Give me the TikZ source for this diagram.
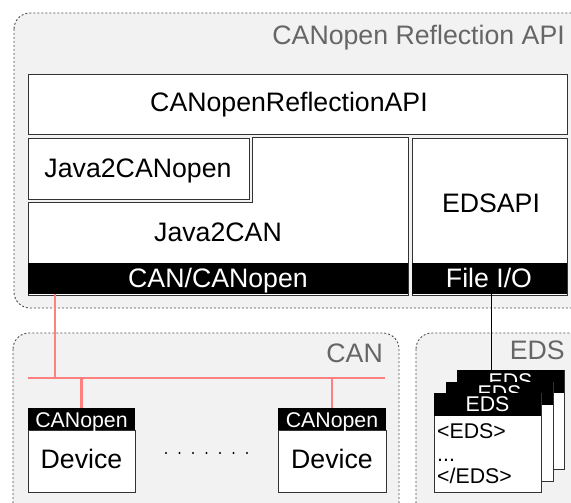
\documentclass[tikz,border=0pt]{standalone}
\usepackage{fontspec}
\setmainfont{Liberation Sans}
\definecolor{bg}{HTML}{F2F2F2}
\definecolor{bord}{HTML}{333333}
\definecolor{titlegray}{HTML}{666666}
\definecolor{busred}{HTML}{FF8080}
\newcommand{\bigfnt}{\fontsize{26.7}{30}\selectfont}
\newcommand{\smlfnt}{\fontsize{21.3}{25}\selectfont}
\begin{document}
\begin{tikzpicture}[x=1pt,y=-1pt,
  group/.style={draw=black!70, dash pattern=on 2pt off 2pt, fill=bg, rounded corners=16pt, line width=0.9pt},
  box/.style={draw=bord, fill=white, line width=1pt, anchor=north west, inner sep=0pt},
  bar/.style={fill=black, anchor=north west, inner sep=0pt},
  bigtxt/.style={font=\bigfnt, anchor=base, inner sep=0pt},
  smltxt/.style={font=\smlfnt, anchor=base, inner sep=0pt},
  grouptitle/.style={font=\bigfnt, text=titlegray, anchor=base east, inner sep=0pt},
  bus/.style={draw=busred, line width=2.5pt},
  link/.style={draw=black, line width=1pt}]
\useasboundingbox (0,0) rectangle (571,503);
\clip (0,0) rectangle (571,503);
% groups
\path[group] (14,13) rectangle (600,308);
\path[group] (13,333) rectangle (399,530);
\path[group] (416,333) rectangle (620,530);
\node[grouptitle] (tapi) at (565,45) {CANopen Reflection API};
\node[grouptitle] (tcan) at (383,362) {CAN};
\node[grouptitle] (teds) at (565,359) {EDS};
% top box
\node[box, minimum width=539pt, minimum height=60pt] (api) at (28,74) {};
\node[bigtxt] at (289,112) {CANopenReflectionAPI};
% Java2CAN L-shape
\draw[draw=bord, fill=white, line width=1pt] (28,202) -- (252,202) -- (252,138) -- (408,138) -- (408,295) -- (28,295) -- cycle;
\node[bigtxt] (j2c) at (218,241) {Java2CAN};
\node[box, minimum width=221pt, minimum height=61pt] (j2co) at (28,138) {};
\node[bigtxt] at (138,177) {Java2CANopen};
\node[bar, minimum width=380pt, minimum height=31pt] (canbar) at (28,263) {};
\node[bigtxt, text=white] at (218,287) {CAN/CANopen};
% EDSAPI
\node[box, minimum width=155pt, minimum height=157pt] (edsapi) at (412,138) {};
\node[bigtxt] at (491,212) {EDSAPI};
\node[bar, minimum width=155pt, minimum height=31pt] (filebar) at (412,263) {};
\node[bigtxt, text=white] at (489,287) {File I/O};
% devices
\node[box, minimum width=107pt, minimum height=62pt] (dev1) at (28,430) {};
\node[bar, minimum width=107pt, minimum height=22pt] (hd1) at (28,408) {};
\node[smltxt, text=white] at (81.5,427) {CANopen};
\node[bigtxt] at (81.5,468) {Device};
\node[box, minimum width=108pt, minimum height=62pt] (dev2) at (278,430) {};
\node[bar, minimum width=108pt, minimum height=22pt] (hd2) at (278,408) {};
\node[smltxt, text=white] at (332,427) {CANopen};
\node[bigtxt] at (332,468) {Device};
\foreach \k in {0,...,6} \fill (166+13.5*\k,453) circle (1.2pt);
% bus
\coordinate (busL) at (28,378);
\coordinate (busR) at (385,378);
\coordinate (busJ) at (55,378);
\draw[bus] (busL) -- (busR);
\draw[bus] (canbar.south -| busJ) -- (busJ);
\draw[bus] (hd1.north) -- (hd1.north |- busL);
\draw[bus] (hd2.north) -- (hd2.north |- busL);
% EDS documents
\foreach \x/\y/\n in {457/370/c, 446/382/b, 434/393/a} {
  \node[box, minimum width=107pt, minimum height=99pt] (doc\n) at (\x,\y) {};
  \node[bar, minimum width=107pt, minimum height=23pt] (dochd\n) at (\x,\y) {};
  \begin{scope}
    \clip (\x,\y) rectangle (\x+107,\y+23);
    \node[smltxt, text=white] at (\x+53.5,\y+18) {EDS};
  \end{scope}
}
\node[smltxt, anchor=base west] at (437,438) {<EDS>};
\node[smltxt, anchor=base west] at (437,461) {...};
\node[smltxt, anchor=base west] at (437,483) {</EDS>};
\coordinate (linkx) at (491,0);
\draw[link] (filebar.south -| linkx) -- (docc.north -| linkx);
\end{tikzpicture}
\end{document}
